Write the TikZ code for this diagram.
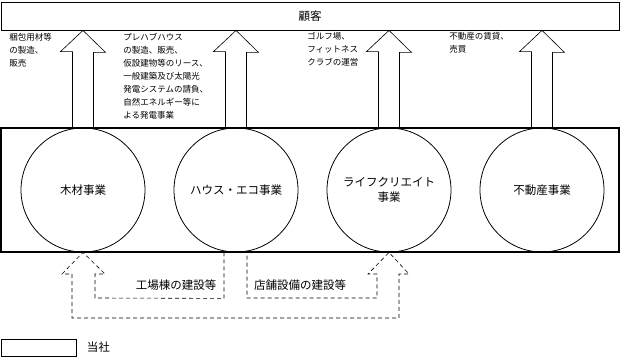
\documentclass[tikz,border=0pt]{standalone}
\usepackage{fontspec}
\setmainfont{Noto Sans CJK JP}
\usetikzlibrary{positioning}
\begin{document}
\begin{tikzpicture}[x=1pt, y=-1pt, line width=0.6pt,
		font=\fontsize{11.5}{15}\selectfont,
		biz/.style={draw, circle, minimum size=124pt, inner sep=0pt, align=center, line width=0.8pt},
		note/.style={anchor=north west, align=left, inner sep=0pt, font=\fontsize{8.5}{13}\selectfont},
		dashline/.style={dash pattern=on 4pt off 3pt}]
		\useasboundingbox (0,0) rectangle (621,358);
		\node[draw, minimum width=618pt, minimum height=28pt, inner sep=0pt, line width=0.8pt] (kokyaku) at (310,16) {顧客};
		\node[draw, minimum width=618pt, minimum height=124pt, line width=1.5pt] (tosha) at (310,190) {};
		\node[biz] (mokuzai) at (83,190) {木材事業};
		\node[biz] (house) at (236,190) {ハウス・エコ事業};
		\node[biz] (life) at (389,190) {ライフクリエイト\\事業};
		\node[biz] (fudosan) at (542,190) {不動産事業};
		\foreach \n in {mokuzai, house, life, fudosan}
		\draw ([xshift=-10.5pt]\n.north) -- ++(0,-76) -- ++(-12,0) -- (\n |- kokyaku.south)
		-- ++(22.5,22) -- ++(-12,0) -- ([xshift=10.5pt]\n.north);
		\node[note] (seihin) at (9,33) {梱包用材等\\の製造、\\販売};
		\node[note] (prefab) at (123,33) {プレハブハウス\\の製造、販売、\\仮設建物等のリース、\\一般建築及び太陽光\\発電システムの請負、\\自然エネルギー等に\\よる発電事業};
		\node[note] (golf) at (307,32) {ゴルフ場、\\フィットネス\\クラブの運営};
		\node[note] (chintai) at (449,32) {不動産の賃貸、\\売買};
		\draw[dashline] ([xshift=-12pt]house.south) -- ++(0,46) -- (95,298) -- (95,274) -- (105,274)
		-- (mokuzai.south) -- (62,274) -- (72,274) -- (72,318) -- (399,318) -- (399,274) -- (409,274)
		-- (life.south) -- (368,274) -- (377,274) -- (377,298) -- (247,298) -- ([xshift=11pt]house.south);
		\node (kojo) at (176,285) {工場棟の建設等};
		\node (tenpo) at (300,285) {店舗設備の建設等};
		\node[draw, minimum width=75pt, minimum height=17pt] (hanrei) at (38.5,347.5) {};
		\node[right=7pt of hanrei] (toshalabel) {当社};
	\end{tikzpicture}
\end{document}
